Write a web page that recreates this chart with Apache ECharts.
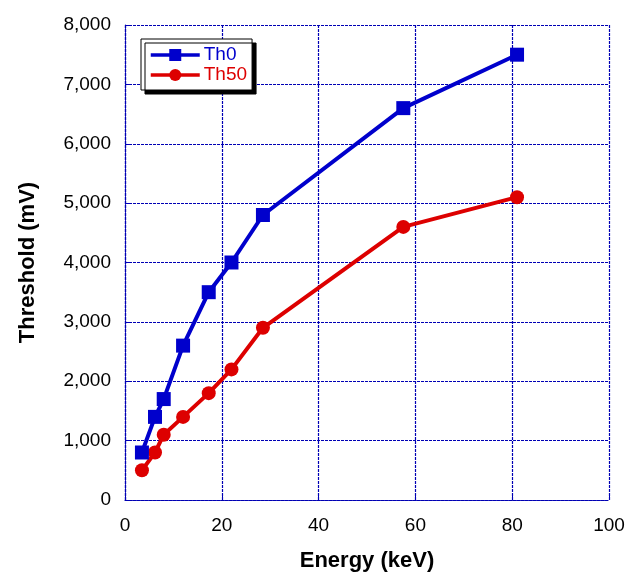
<!DOCTYPE html>
<html>
<head>
<meta charset="UTF-8">
<title>Threshold vs Energy</title>
<script src="https://cdn.jsdelivr.net/npm/echarts@6/dist/echarts.min.js"></script>
<style>
	html, body { margin: 0; padding: 0; background: #fff; overflow: hidden; }
</style>
</head>
<body>
<div id="main" style="width: 635px;height:577px;"></div>
<script type="text/javascript">
	// 数据
	var energy = [3.5, 6.2, 8, 12, 17.3, 22, 28.5, 57.5, 81];
	var th0 = [800, 1400, 1700, 2600, 3500, 4000, 4800, 6600, 7500];
	var th50 = [500, 800, 1100, 1400, 1800, 2200, 2900, 4600, 5100];
	var seriesNames = ['Th0', 'Th50'];
	var seriesColors = ['#0000cc', '#dd0000'];

	function pairs(xs, ys) {
		return xs.map(function (x, i) { return [x, ys[i]]; });
	}

	var gridColor = '#0000b4';
	var gridLine = { color: gridColor, type: [3, 1], width: 1.2 };
	var font = 'Liberation Sans, Arial, sans-serif';

	var myChart = echarts.init(document.getElementById('main'));
	var option = {
		animation: false,
		textStyle: { fontFamily: font },
		grid: { left: 125, right: 26, top: 25, bottom: 71 },
		legend: {
			orient: 'vertical',
			left: 141,
			top: 39,
			padding: [6, 5, 5, 8],
			itemGap: 0,
			itemWidth: 49,
			itemHeight: 15,
			backgroundColor: '#fff',
			borderColor: '#000',
			borderWidth: 1,
			shadowColor: '#000',
			shadowBlur: 0,
			shadowOffsetX: 4,
			shadowOffsetY: 4,
			lineStyle: { width: 3.5 },
			data: [
				{ name: seriesNames[0], textStyle: { color: seriesColors[0] } },
				{ name: seriesNames[1], textStyle: { color: seriesColors[1] } }
			],
			textStyle: { fontSize: 19, lineHeight: 20, fontFamily: font, padding: [0, 0, 0, -1] }
		},
		xAxis: {
			type: 'value',
			min: 0, max: 100, interval: 20,
			name: 'Energy (keV)',
			nameLocation: 'middle',
			nameGap: 50,
			nameTextStyle: { fontSize: 22, fontWeight: 'bold', color: '#000', fontFamily: font },
			axisLine: { show: true, lineStyle: gridLine },
			axisTick: { show: true, inside: true, length: 4, lineStyle: { color: gridColor } },
			axisLabel: { fontSize: 19, color: '#000', margin: 16, fontFamily: font },
			splitLine: { show: true, lineStyle: gridLine }
		},
		yAxis: {
			type: 'value',
			min: 0, max: 8000, interval: 1000,
			name: 'Threshold (mV)',
			nameLocation: 'middle',
			nameGap: 86,
			nameTextStyle: { fontSize: 22, fontWeight: 'bold', color: '#000', fontFamily: font },
			axisLine: { show: true, lineStyle: gridLine },
			axisTick: { show: true, inside: true, length: 4, lineStyle: { color: gridColor } },
			axisLabel: {
				fontSize: 19, color: '#000', margin: 14, fontFamily: font,
				formatter: function (v) { return v.toLocaleString('en-US'); }
			},
			splitLine: { show: true, lineStyle: gridLine }
		},
		series: [
			{
				name: seriesNames[0],
				type: 'line',
				data: pairs(energy, th0),
				symbol: 'rect',
				symbolSize: 14,
				color: seriesColors[0],
				lineStyle: { width: 4, color: seriesColors[0] },
				itemStyle: { color: seriesColors[0] },
				z: 3
			},
			{
				name: seriesNames[1],
				type: 'line',
				data: pairs(energy, th50),
				symbol: 'circle',
				symbolSize: 14,
				color: seriesColors[1],
				lineStyle: { width: 4, color: seriesColors[1] },
				itemStyle: { color: seriesColors[1] },
				z: 2
			}
		]
	};
	myChart.setOption(option);
</script>
</body>
</html>
